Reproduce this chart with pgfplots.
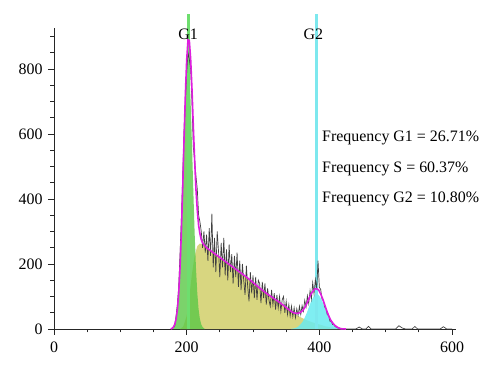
\documentclass[border=0pt]{standalone}
\usepackage{pgfplots}
\pgfplotsset{compat=1.18}
\usepackage{fontspec}
\setmainfont{Liberation Serif}
\definecolor{gone}{RGB}{90,200,70}
\definecolor{gonel}{RGB}{110,222,110}
\definecolor{sph}{RGB}{216,214,128}
\definecolor{gtwo}{RGB}{105,235,240}
\definecolor{gtwol}{RGB}{125,232,238}
\definecolor{mag}{RGB}{222,30,222}
\begin{document}
\begin{tikzpicture}
\begin{axis}[
  at={(0,0)}, anchor=south west,
  scale only axis, width=402bp, height=300.6bp,
  xmin=0, xmax=606, ymin=0, ymax=925,
  axis lines=left, axis line style={-, line width=0.8pt, black!85},
  xtick={0,200,400,600}, ytick={0,200,400,600,800},
  minor xtick={50,100,...,550}, minor ytick={50,100,...,900},
  tick align=outside, major tick length=6bp, minor tick length=3.5bp,
  tick style={black!85, line width=0.8pt},
  ticklabel style={font=\fontsize{16}{18}\selectfont},
  /pgf/number format/assume math mode=true,
  xticklabel style={yshift=-3bp}, yticklabel style={xshift=-2bp},
  clip=false,
]
% S phase
\addplot[fill=sph, draw=none] table {
190 0
195 8
200 40
204 100
208 170
212 225
216 255
220 263
225 258
230 250
240 235
250 220
260 205
270 190
280 175
290 160
300 143
310 126
320 110
330 96
340 82
350 66
360 50
370 38
380 28
390 20
400 14
410 8
420 4
430 1
440 0
} \closedcycle;
% G1
\addplot[fill=gone, fill opacity=0.8, draw=none] table {
176 0
178 2
180 6
182 14
184 30
186 60
188 111
190 189
192 296
194 427
196 568
198 696
200 787
202 820
204 787
206 696
208 568
210 427
212 296
214 189
216 111
218 60
220 30
222 14
224 6
226 2
228 0
} \closedcycle;
% G2
\addplot[fill=gtwo, fill opacity=0.85, draw=none] table {
357 0.5
360 1.2
363 2.5
366 4.7
369 8.6
372 15
375 23
378 35
381 49
384 66
387 82
390 95
393 105
396 108
399 105
402 95
405 82
408 66
411 49
414 35
417 23
420 15
423 8.6
426 4.7
429 2.5
432 1.2
435 0.5
} \closedcycle;
% marker lines
\addplot[gonel, line width=3bp] coordinates {(203,0) (203,970)};
\addplot[gtwol, line width=3bp] coordinates {(396,0) (396,970)};
% raw histogram
\addplot[black!75, line width=0.7pt] table {
180 4
182 10
184 40
186 75
188 130
190 230
192 340
194 470
196 610
198 700
200 790
202 850
204 830
206 800
208 700
210 560
212 520
214 470
216 430
218 350
220 330
222 300
224 250
226 300
228 235
230 290
232 210
234 310
236 225
238 355
240 190
242 280
244 175
246 300
248 240
250 160
252 265
254 190
256 280
258 165
260 245
262 150
264 260
266 175
268 230
270 140
272 225
274 160
276 235
278 130
280 210
282 120
284 200
286 150
288 105
290 195
292 130
294 85
296 175
298 110
300 165
302 95
304 160
306 90
308 150
310 140
312 80
314 145
316 95
318 140
320 75
322 125
324 90
326 70
328 120
330 75
332 110
334 60
336 105
338 65
340 100
342 55
344 90
346 100
348 50
350 85
352 45
354 75
356 40
358 70
360 38
362 65
364 35
366 62
368 42
370 70
372 45
374 72
376 55
378 88
380 68
382 102
384 78
386 118
388 92
390 142
392 108
394 152
396 122
398 210
400 128
402 122
404 92
406 88
408 68
410 62
412 44
414 42
416 24
418 24
420 14
422 13
424 7
426 6
428 3
430 3
432 2
434 1
436 0
455 0
460 6
465 0
470 0
474 8
478 0
515 0
520 10
525 3
530 0
540 0
544 8
548 0
582 0
587 7
592 0
600 0
};
% total fit
\addplot[mag, line width=1.6pt] table {
176 0
178 2
180 6
182 14
184 30
186 60
188 111
190 189
192 297
194 432
196 580
198 720
200 827
202 890
204 887
206 831
208 738
210 625
212 521
214 429
216 366
218 319
220 293
222 275
224 265
226 259
228 255
230 250
240 235
250 220
260 205
270 190
280 175
290 160
300 143
310 126
320 110
330 96
340 82
350 66
357 55
360 51
363 49
366 48
369 49
372 52
375 57
378 66
381 78
384 92
387 106
390 115
393 123
396 124
399 120
402 108
405 93
408 75
411 57
414 41
417 28
420 19
423 12
426 7
429 3.5
432 1
435 0.5
440 0
};
\node[font=\fontsize{16}{18}\selectfont] at (axis cs:202,908) {G1};
\node[font=\fontsize{16}{18}\selectfont] at (axis cs:391,908) {G2};
\node[anchor=west, font=\fontsize{16}{18}\selectfont] at (axis cs:399,588) {Frequency G1 = 26.71\%};
\node[anchor=west, font=\fontsize{16}{18}\selectfont] at (axis cs:399,492) {Frequency S = 60.37\%};
\node[anchor=west, font=\fontsize{16}{18}\selectfont] at (axis cs:399,400) {Frequency G2 = 10.80\%};
\end{axis}
\pgfresetboundingbox
\path (-54bp,-47bp) rectangle (446bp,329bp);
\end{tikzpicture}
\end{document}
